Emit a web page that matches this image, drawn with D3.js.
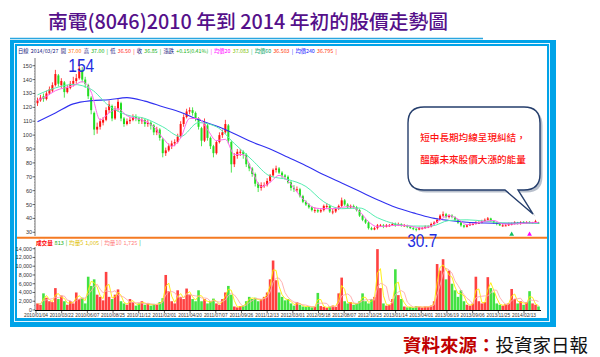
<!DOCTYPE html>
<html><head><meta charset="utf-8">
<script src="https://cdn.jsdelivr.net/npm/d3@7"></script>
<style>body{margin:0;background:#fff}svg{display:block}</style>
</head><body><svg id="c" width="600" height="357"></svg>
<script>
// ---------- DATA ----------
const titleText = "南電(8046)2010 年到 2014 年初的股價走勢圖";
const sourceLabel = "資料來源：";
const sourceName = "投資家日報";
const calloutLines = ["短中長期均線呈現糾結，", "醞釀未來股價大漲的能量"];

const opens = [
123,125,128,126,130,132,136,143,136,138,131,134,137,139,141,147,140,136,127,116,
104,106,109,111,118,121,112,119,123,112,108,110,111,113,112,110,111,108,109,107,
102,104,97,87,89,92,94,95,99,108,113,117,118,116,112,105,96,107,98,92,
87,95,100,102,107,95,79,85,88,88,86,79,76,72,65,62,64,64,67,71,
75,76,73,71,70,66,62,61,61,56,52,50,48,46,46,45,46,49,49,45,
45,47,49,53,50,48,49,48,46,42,39,37,33,32,33,35,35,34,35,35,
36,35,36,35,35,34,33,32.5,32,33,33,34,34,36,37,39,42,43,41,42,
41,39,37,35,34,35,36,36,37,37,38,39,40,38,37,36,35,35,35,36,
36,37,36,37.5,36.5,37.5,36.5,37,37];
const highs = [
127,129,130,132,135,138,147,144,141,139,136,139,142,144,154,149,142,137,128,117,
109,112,113,120,125,122,121,126,124,113,112,113,115,115,113,113,112,111,110,108,
106,105,98,91,94,96,97,101,110,115,119,120,120,117,113,106,112,108,99,93,
96,102,104,111,108,96,87,90,90,89,87,80,77,73,66,66,66,69,72,76,
78,77,74,72,71,67,64,63,62,57,53,51,49,48,47,47,50,51,50,47,
48,50,55,54,51,50,50,49,47,43,40,38,34,34,36,36,36,36,36,37,
37,37,36.5,36,35.5,34.5,34,33,34,34,35,35,37,38,40,43,45,44,43,43,
41.5,39.5,37.5,35.5,36,37,37,38,38,39,40,41,40.5,38.5,37.5,36.5,36,36,37,37,
38,37.5,38,38,38,38,37.5,39,37.5];
const lows = [
121,124,124,125,129,131,135,135,134,127,130,133,135,137,140,138,134,126,115,100,
101,104,107,110,116,110,111,117,110,106,107,108,110,110,108,108,106,106,104,100,
100,96,84,85,88,90,92,94,98,106,112,115,114,110,104,92,95,96,90,84,
86,94,98,101,94,73,77,83,85,83,77,74,70,63,59,60,62,63,66,70,
73,72,69,68,65,60,59,59,55,51,49,47,45,44,44,44,45,47,44,43,
44,46,48,49,47,47,47,45,41,38,36,32,31.5,31.5,32,34,33,33.5,34,34.5,
34,34.5,34,34,33,32.5,31.5,30.7,31.5,32,32.5,33,33.5,35,36.5,38.5,41,40,40,40,
38,36,34,33,33.5,34.5,35,35.5,36,36.5,37.5,38.5,37.5,36,35,34.5,34,34.5,34.5,35,
35.5,35.5,35.5,36,36,36,36,36.5,36.5];
const closes = [
125,127,126,130,133,136,144,137,139,131,134,137,139,141,148,140,137,128,118,104,
106,110,111,118,122,112,119,124,112,108,110,111,113,112,110,111,108,109,107,102,
104,98,87,89,92,94,95,99,108,113,117,118,116,112,106,96,108,98,92,87,
95,100,102,108,96,79,85,88,88,86,79,76,72,65,62,64,64,67,71,75,
76,73,71,70,66,62,61,61,56,52,50,48,46,46,45,46,49,49,45,45,
47,49,53,50,48,49,48,46,42,39,37,33,32,33,35,35,34,35,35,36,
35,36,35,35,34,33,32.5,32,33,33,34,34,36,37,39,42,43,41,42,41,
39,37,35,34,35,36,36,37,37,38,39,40,38,37,36,35,35,35,36,36,
37,36,37,37,37,37,37,38,36.85];
const volumes = [
1500,1200,3800,2800,2000,1800,5000,2500,3300,2000,1200,2000,1500,4000,2500,2800,1500,7600,5500,7000,
3500,3000,2200,8700,3000,2500,3500,4700,2000,1500,1200,2500,1800,1000,1500,2000,1200,1500,1000,1400,
1200,1800,2700,8000,4300,2000,1500,4500,3000,2500,4900,3500,2500,2000,4500,2000,2500,1500,2000,2600,
1500,1200,2500,4000,5500,3500,800,600,900,1000,2000,3000,2500,2800,2000,2500,3000,4000,7000,11300,
6800,4000,3000,2200,2500,1500,1000,1800,1200,800,700,900,600,800,3900,900,700,500,800,1000,
700,3800,7400,2000,1500,1800,1200,1500,2000,3800,2000,1500,2500,3000,13900,5000,1500,1000,1200,2500,
9300,3400,2500,800,600,700,500,900,700,600,800,700,1000,2000,10500,9000,11600,7000,9000,6000,
4500,3000,4500,2000,1200,1000,1500,7600,2000,1500,1800,7500,5000,4000,1500,1200,1000,1400,1500,4800,
2500,1500,2000,1200,1800,4300,1500,1200,813];

// moving averages (ma20 every 3rd sample, ma60/ma240 every 6th)
const ma20 = [125,128,132,134,135.5,138.5,131,111,116,119,114,112,110,106,98,92,98,112,112,104,96,97,86,86,74,63,66,71,67,59,52,47.5,47,47,48,48.5,45,37.7,34,34.5,35,35,34,33,34.5,39,42,39.5,35.5,36.5,38,38.5,36,35.8,36.3,36.8,37.08];
const ma60 = [129,134,136.5,133,121,114.5,112,106,99,109,106,94,82,70.5,68,63,52,47,47.5,40.5,36,34.5,34.5,38.5,39,38,36.8,36.5,36.5];
const ma240 = [109.7,116,122.5,124.8,125.5,127,124.5,120.5,116.5,111,106.5,101,95,90,84,78,71.5,65.5,59.5,53.5,48,44,40.5,38.5,37.2,36.7,36.5,36.6,36.8];

const priceTicks = [150,140,130,120,110,100,90,80,70,60,50,40,30];
const volTicks = [0,2000,4000,6000,8000,10000,12000,14000];
const dateLabels = ["2010/01/04","2010/03/22","2010/06/07","2010/08/25","2010/11/12","2011/02/01","2011/04/20","2011/07/07","2011/09/26","2011/12/13","2012/03/01","2012/05/18","2012/08/07","2012/10/25","2013/01/14","2013/04/01","2013/06/19","2013/09/06","2013/11/25","2014/02/13"];

const priceHeader = [["日線","#1a1a80"],["2014/03/27","#1a1a80"],["開","#1a1a80"],["37.00","#ff6a00"],["高","#1a1a80"],["37.00","#10b010"],["|","#10b010"],["低","#1a1a80"],["36.50","#ff2020"],["|","#ff2020"],["收","#1a1a80"],["36.85","#10b010"],["|","#10b010"],["漲跌","#1a1a80"],["+0.15(0.41%)","#10b010"],["|","#ff00ff"],["均價20","#ff00ff"],["37.083","#7cc000"],["|","#00c060"],["均價60","#00a060"],["36.503","#ff3300"],["|","#2020ff"],["均價240","#2020ff"],["36.795","#ff3300"],["|","#ff3300"]];
const volHeader = [["成交量","#ff0000",700],["813","#10b010",400],["|","#10b010",400],["均量5","#e0c000",400],["1,005","#e0c000",400],["|","#ff8080",400],["均量10","#ff8080",400],["1,725","#ff8080",400],["|","#10b010",400]];

const extremes = [{label:"154", idx:14, kind:"high"}, {label:"30.7", idx:127, kind:"low"}];
const signals = [{idx:159, color:"#10c060"}, {idx:165, color:"#ff00ff"}];

// ---------- DRAW ----------
const svg = d3.select("#c");
const N = closes.length;
const x = d3.scaleLinear().domain([0, N - 1]).range([37.5, 538.5]);
const y = d3.scaleLinear().domain([30, 150]).range([232.3, 65.7]);
const yv = d3.scaleLinear().domain([0, 14000]).range([310, 248.7]);

// title
svg.append("text").attr("x", 248).attr("y", 29).attr("text-anchor", "middle")
  .attr("font-family", "'Noto Sans CJK TC', sans-serif").attr("font-size", 19.8).attr("font-weight", 500)
  .attr("fill", "#55108a").text(titleText);
svg.append("line").attr("x1", 10).attr("x2", 483).attr("y1", 38.5).attr("y2", 38.5)
  .attr("stroke", "#2aa6e0").attr("stroke-width", 1.5);

// frame
svg.append("rect").attr("x", 10).attr("y", 40).attr("width", 546).attr("height", 287).attr("fill", "#00a3e8");
svg.append("rect").attr("x", 14.5).attr("y", 43.5).attr("width", 535).attr("height", 278)
  .attr("fill", "none").attr("stroke", "#e8f7ff").attr("stroke-width", 1);
svg.append("rect").attr("x", 17).attr("y", 46).attr("width", 530).attr("height", 272).attr("fill", "#fff");

// headers: separate text items laid out left to right
function header(segs, x0, yy, fs, gap) {
  let cx = x0;
  segs.forEach(s => {
    const t = svg.append("text").attr("x", cx).attr("y", yy)
      .attr("font-family", "'Noto Sans CJK TC', sans-serif").attr("font-size", fs)
      .attr("fill", s[1]).attr("font-weight", s[2] || 400).text(s[0]);
    cx += t.node().getComputedTextLength() + gap;
  });
}
header(priceHeader, 18, 52.8, 5.3, 2.2);
header(volHeader, 36, 244.5, 5.6, 1.8);

// price axis
const pa = svg.append("g").attr("font-family", "'Liberation Sans', Arial, sans-serif").attr("font-size", 5.5);
pa.append("line").attr("x1", 35).attr("x2", 35).attr("y1", 58).attr("y2", 236).attr("stroke", "#555").attr("stroke-width", 0.8);
d3.range(30, 152, 2).forEach(v => pa.append("line").attr("x1", 34).attr("x2", 35).attr("y1", y(v)).attr("y2", y(v)).attr("stroke", "#777").attr("stroke-width", 0.6));
priceTicks.forEach(v => {
  pa.append("line").attr("x1", 32.5).attr("x2", 35).attr("y1", y(v)).attr("y2", y(v)).attr("stroke", "#333").attr("stroke-width", 0.7);
  pa.append("text").attr("x", 32).attr("y", y(v) + 2).attr("text-anchor", "end").attr("fill", "#333").text(v);
});

// candles
const cg = svg.append("g");
closes.forEach((c, i) => {
  const o = opens[i], up = c >= o;
  const col = up ? "#ff1010" : "#22dd22";
  cg.append("line").attr("x1", x(i)).attr("x2", x(i)).attr("y1", y(highs[i])).attr("y2", y(lows[i]))
    .attr("stroke", col).attr("stroke-width", 0.8);
  const top = y(Math.max(o, c)), h = Math.max(1, Math.abs(y(o) - y(c)));
  cg.append("rect").attr("x", x(i) - 1).attr("width", 2).attr("y", top).attr("height", h).attr("fill", col);
});

// moving averages
function maLine(arr, step, color, w) {
  const line = d3.line().x((d, k) => x(Math.min(k * step, N - 1))).y(d => y(d)).curve(d3.curveMonotoneX);
  svg.append("path").datum(arr).attr("d", line).attr("fill", "none").attr("stroke", color).attr("stroke-width", w);
}
maLine(ma240, 6, "#3030f0", 1.1);
maLine(ma60, 6, "#55eeb0", 1);
maLine(ma20, 3, "#ff66ee", 1);

// separator
svg.append("line").attr("x1", 17).attr("x2", 547).attr("y1", 237.7).attr("y2", 237.7)
  .attr("stroke", "#f47a22").attr("stroke-width", 2);

// extremes labels
extremes.forEach(e => {
  const hi = e.kind === "high";
  svg.append("text").attr("x", hi ? x(e.idx) - 11 : x(e.idx) - 9).attr("y", hi ? 71.5 : 246.5)
    .attr("font-family", "'Liberation Sans', Arial, sans-serif").attr("font-size", 18)
    .attr("textLength", hi ? 26 : 30).attr("lengthAdjust", "spacingAndGlyphs")
    .attr("fill", "#1f2ee0").text(e.label);
});

// signals
signals.forEach(s => {
  svg.append("path").attr("d", d3.symbol(d3.symbolTriangle, 10)())
    .attr("transform", `translate(${x(s.idx)},234.3)`).attr("fill", s.color);
});

// volume axis
const va = svg.append("g").attr("font-family", "'Liberation Sans', Arial, sans-serif").attr("font-size", 5.3);
va.append("line").attr("x1", 35).attr("x2", 35).attr("y1", 247).attr("y2", 310).attr("stroke", "#555").attr("stroke-width", 0.8);
d3.range(0, 14001, 1000).forEach(v => va.append("line").attr("x1", 34).attr("x2", 35).attr("y1", yv(v)).attr("y2", yv(v)).attr("stroke", "#777").attr("stroke-width", 0.6));
volTicks.forEach(v => {
  va.append("line").attr("x1", 32.5).attr("x2", 35).attr("y1", yv(v)).attr("y2", yv(v)).attr("stroke", "#333").attr("stroke-width", 0.7);
  va.append("text").attr("x", 32).attr("y", yv(v) + 2).attr("text-anchor", "end").attr("fill", "#333").text(d3.format(",")(v));
});

// volume bars
const vg = svg.append("g");
volumes.forEach((v, i) => {
  const up = closes[i] >= opens[i];
  vg.append("rect").attr("x", x(i) - 1.3).attr("width", 2.6).attr("y", yv(v)).attr("height", yv(0) - yv(v))
    .attr("fill", up ? "#ff2020" : "#22dd22").attr("opacity", 0.85);
});
// volume moving averages (rolling means of the bars)
function rolling(arr, w) { return arr.map((d, i) => d3.mean(arr.slice(Math.max(0, i - w + 1), i + 1))); }
const vline = d3.line().x((d, i) => x(i)).y(d => yv(d));
svg.append("path").datum(rolling(volumes, 2)).attr("d", vline).attr("fill", "none").attr("stroke", "#ffee00").attr("stroke-width", 0.9);
svg.append("path").datum(rolling(volumes, 4)).attr("d", vline).attr("fill", "none").attr("stroke", "#ffaaaa").attr("stroke-width", 0.9);

// date axis
svg.append("line").attr("x1", 35).attr("x2", 541).attr("y1", 310.5).attr("y2", 310.5).attr("stroke", "#000").attr("stroke-width", 1);
const xd = d3.scalePoint().domain(dateLabels).range([36, 524]);
const da = svg.append("g").attr("font-family", "'Liberation Sans', Arial, sans-serif").attr("font-size", 4.8).attr("fill", "#333");
dateLabels.forEach(d => {
  da.append("line").attr("x1", xd(d)).attr("x2", xd(d)).attr("y1", 311).attr("y2", 313).attr("stroke", "#000").attr("stroke-width", 0.6);
  da.append("text").attr("x", xd(d)).attr("y", 317).attr("text-anchor", "middle").text(d);
});

// callout
const bx0 = 408, by0 = 107, bx1 = 540, by1 = 190, r = 16;
const bubble = `M${bx0+r},${by0} H${bx1-r} Q${bx1},${by0} ${bx1},${by0+r} V${by1-r} Q${bx1},${by1} ${bx1-r},${by1} H518 L533,214 L505,${by1} H${bx0+r} Q${bx0},${by1} ${bx0},${by1-r} V${by0+r} Q${bx0},${by0} ${bx0+r},${by0} Z`;
svg.append("path").attr("d", bubble).attr("transform", "translate(2.5,2.5)").attr("fill", "#8a96aa").attr("opacity", 0.6);
svg.append("path").attr("d", bubble).attr("fill", "#fff").attr("stroke", "#253e6c").attr("stroke-width", 1.4);
calloutLines.forEach((t, k) => {
  svg.append("text").attr("x", 473).attr("y", 141 + k * 22).attr("text-anchor", "middle")
    .attr("font-family", "'Noto Sans CJK TC', sans-serif").attr("font-size", 9.6).attr("font-weight", 500)
    .attr("fill", "#ff1010").text(t);
});

// source
const st = svg.append("text").attr("x", 403).attr("y", 352)
  .attr("font-family", "'Noto Sans CJK TC', sans-serif").attr("font-size", 18.5);
st.append("tspan").attr("fill", "#c00000").attr("font-weight", 700).text(sourceLabel);
st.append("tspan").attr("fill", "#111").text(sourceName);
</script></body></html>
